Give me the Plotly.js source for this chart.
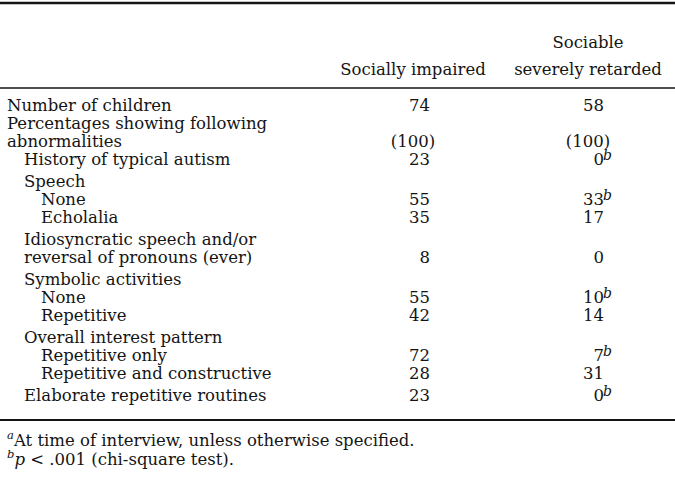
<!DOCTYPE html>
<html>
<head>
<meta charset="utf-8">
<script src="https://cdn.plot.ly/plotly-3.0.1.min.js"></script>
<style>html,body{margin:0;padding:0;background:#fff;}#chart{width:675px;height:497px;}</style>
</head>
<body>
<div id="chart"></div>
<script>
// ---- data ----
var rowLabels = [
  "Number of children",
  "Percentages showing following",
  "abnormalities",
  "History of typical autism",
  "Speech",
  "None",
  "Echolalia",
  "Idiosyncratic speech and/or",
  "reversal of pronouns (ever)",
  "Symbolic activities",
  "None",
  "Repetitive",
  "Overall interest pattern",
  "Repetitive only",
  "Repetitive and constructive",
  "Elaborate repetitive routines"
];
var rowIndent = [0,0,0,1,1,2,2,1,1,1,2,2,1,2,2,1];
var rowGroup  = [0,0,0,0,1,1,1,2,2,3,3,3,4,4,4,5];
var headerTop    = ["", "Sociable"];
var headerBottom = ["Socially impaired", "severely retarded"];
var sociallyImpaired = ["74","","(100)","23","","55","35","","8","","55","42","","72","28","23"];
var sociableRetarded = ["58","","(100)","0","","33","17","","0","","10","14","","7","31","0"];
var retardedNote     = ["","","","b","","b","","","","","b","","","b","","b"];
var footnotes = [
  "<sup><i>a</i></sup>At time of interview, unless otherwise specified.",
  "<sup><i>b</i></sup><i>p</i> &lt; .001 (chi-square test)."
];

// ---- layout helpers ----
var FONT = "DejaVu Serif, serif";
var FS = 16.5;
var INK = "#141414";
var rowY = rowLabels.map(function(_, i){ return 107 + 18*i + 4*rowGroup[i]; });
var colCenter = [413, 588];
function isParen(s){ return s.charAt(0) === "("; }

var traces = [];
// row labels
traces.push({
  type:"scatter", mode:"text",
  x: rowLabels.map(function(_, i){ return 7 + 17*rowIndent[i]; }),
  y: rowY, text: rowLabels, textposition:"middle right",
  textfont:{family:FONT, size:FS, color:INK}, hoverinfo:"skip"
});
function colTrace(vals, xRight, xCenter){
  var xr=[], yr=[], tr=[], xc=[], yc=[], tc=[];
  vals.forEach(function(v, i){
    if(!v) return;
    if(isParen(v)){ xc.push(xCenter); yc.push(rowY[i]); tc.push(v); }
    else { xr.push(xRight); yr.push(rowY[i]); tr.push(v); }
  });
  traces.push({type:"scatter", mode:"text", x:xr, y:yr, text:tr, textposition:"middle left",
    textfont:{family:FONT, size:FS, color:INK}, hoverinfo:"skip"});
  traces.push({type:"scatter", mode:"text", x:xc, y:yc, text:tc, textposition:"middle center",
    textfont:{family:FONT, size:FS, color:INK}, hoverinfo:"skip"});
}
colTrace(sociallyImpaired, 430, colCenter[0]);
colTrace(sociableRetarded, 604, colCenter[1]);
// superscript notes
var nx=[], ny=[], nt=[];
retardedNote.forEach(function(v, i){ if(v){ nx.push(603); ny.push(rowY[i]-5); nt.push("<i>"+v+"</i>"); } });
traces.push({type:"scatter", mode:"text", x:nx, y:ny, text:nt, textposition:"middle right",
  textfont:{family:FONT, size:14, color:INK}, hoverinfo:"skip"});
// headers
var hx=[], hy=[], ht=[];
headerTop.forEach(function(v, i){ if(v){ hx.push(colCenter[i]); hy.push(44); ht.push(v); } });
headerBottom.forEach(function(v, i){ if(v){ hx.push(colCenter[i]); hy.push(71); ht.push(v); } });
traces.push({type:"scatter", mode:"text", x:hx, y:hy, text:ht,
  textposition:"middle center", textfont:{family:FONT, size:FS, color:INK}, hoverinfo:"skip"});
// footnotes
traces.push({type:"scatter", mode:"text", x:[7,7], y:[442,461], text:footnotes,
  textposition:"middle right", textfont:{family:FONT, size:FS, color:INK}, hoverinfo:"skip"});

var layout = {
  width:675, height:497, margin:{l:0,r:0,t:0,b:0},
  paper_bgcolor:"#fff", plot_bgcolor:"#fff", showlegend:false,
  xaxis:{range:[0,675], visible:false, fixedrange:true},
  yaxis:{range:[497,0], visible:false, fixedrange:true},
  shapes:[
    {type:"line", xref:"x", yref:"y", x0:0, x1:675, y0:3, y1:3, line:{color:INK, width:2.5}},
    {type:"line", xref:"x", yref:"y", x0:0, x1:675, y0:88, y1:88, line:{color:INK, width:1.5}},
    {type:"line", xref:"x", yref:"y", x0:0, x1:675, y0:420, y1:420, line:{color:INK, width:2}}
  ]
};
Plotly.newPlot("chart", traces, layout, {displayModeBar:false, staticPlot:true});
</script>
</body>
</html>
